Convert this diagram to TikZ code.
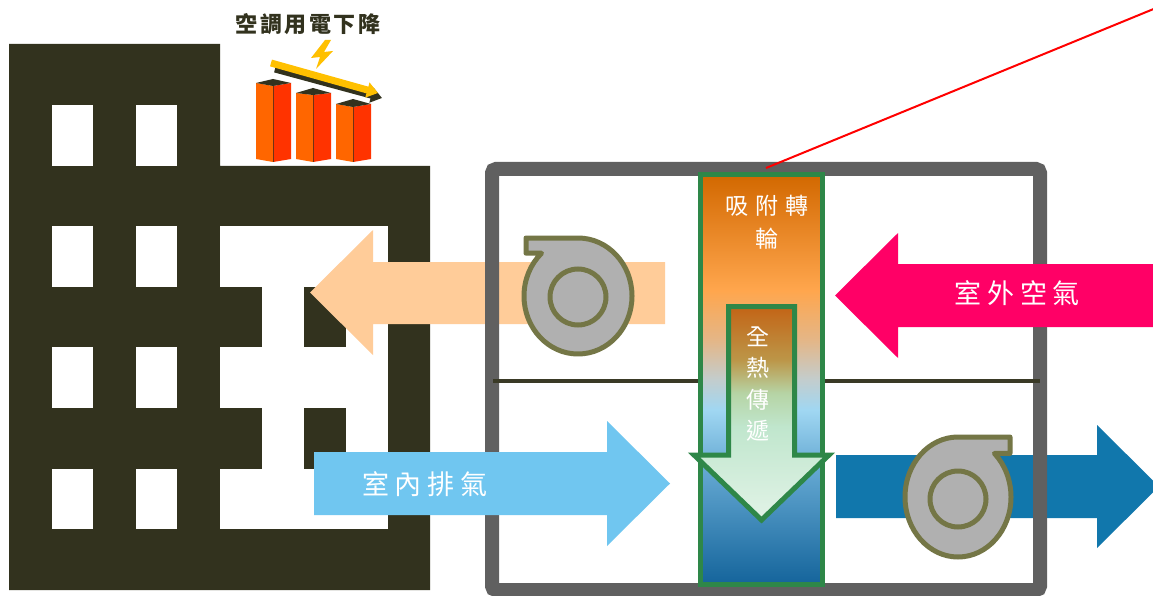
\documentclass[tikz,border=0pt]{standalone}
\usepackage{fontspec}
\usetikzlibrary{arrows.meta}
\newfontfamily\cjk{Noto Sans CJK TC}

% palette
\definecolor{bldg}{RGB}{50,50,30}
\definecolor{framegray}{RGB}{96,96,96}
\definecolor{midline}{RGB}{58,58,38}
\definecolor{peach}{RGB}{255,204,153}
\definecolor{pinkair}{RGB}{255,0,102}
\definecolor{skyair}{RGB}{112,198,240}
\definecolor{deepair}{RGB}{17,119,172}
\definecolor{rotorgreen}{RGB}{46,135,72}
\definecolor{fanfill}{RGB}{176,176,176}
\definecolor{fanline}{RGB}{116,118,70}
\definecolor{barleft}{RGB}{255,102,0}
\definecolor{barright}{RGB}{255,51,0}
\definecolor{trendyellow}{RGB}{255,192,0}

% rotor gradient, top to bottom
\definecolor{rA}{RGB}{210,104,0}
\definecolor{rB}{RGB}{255,166,77}
\definecolor{rC}{RGB}{228,182,135}
\definecolor{rD}{RGB}{195,205,205}
\definecolor{rE}{RGB}{160,215,242}
\definecolor{rF}{RGB}{100,168,210}
\definecolor{rG}{RGB}{20,100,155}
\pgfdeclareverticalshading{rotorgrad}{100bp}{%
  color(0bp)=(rG); color(25bp)=(rG); color(39bp)=(rF); color(46.3bp)=(rE);
  color(50bp)=(rD); color(54.8bp)=(rC); color(60.9bp)=(rB); color(75bp)=(rA);
  color(100bp)=(rA)}

% enthalpy arrow gradient, top to bottom
\definecolor{aA}{RGB}{195,100,22}
\definecolor{aB}{RGB}{188,150,72}
\definecolor{aC}{RGB}{182,212,165}
\definecolor{aD}{RGB}{192,230,205}
\definecolor{aE}{RGB}{226,243,231}
\pgfdeclareverticalshading{transfergrad}{100bp}{%
  color(0bp)=(aE); color(25bp)=(aE); color(46.8bp)=(aD); color(54.7bp)=(aC);
  color(62.5bp)=(aB); color(75bp)=(aA); color(100bp)=(aA)}

\newcommand\cjbox[2]{\makebox[#1]{#2}}

\tikzset{
  fan/.style={fill=fanfill, draw=fanline, line width=5, line join=round},
  fanhub/.style={draw=fanline, line width=5},
  labelwhite/.style={text=white, inner sep=0},
  barface/.style={draw=none},
}

\begin{document}
\begin{tikzpicture}[x=1pt, y=-1pt]
\useasboundingbox (0,0) rectangle (1153,596);
\clip (0,0) rectangle (1153,596);
\fill[white] (0,0) rectangle (1153,596);

% ---- building ----
\fill[bldg] (9,44) -- (220,44) -- (220,166) -- (430,166) -- (430,590) -- (9,590) -- cycle;
\foreach \ya/\yb in {105/166, 226/287, 347/408, 469/529}{
  \fill[white] (52,\ya) rectangle (93,\yb);
  \fill[white] (136,\ya) rectangle (177,\yb);
}
\fill[white] (220,226) rectangle (388,529);
\fill[bldg] (219,287) rectangle (262,347);
\fill[bldg] (219,408) rectangle (262,469);
\fill[bldg] (304,287) rectangle (346,347);
\fill[bldg] (304,408) rectangle (346,469);

% ---- falling power bars ----
\foreach \xl/\xm/\xr/\yl/\yk/\yf in {256/273/291/83/79/86, 296/313/331/93/88/95, 336/353/371/104/99/107}{
  \fill[barleft] (\xl,\yl) -- (\xm,\yf) -- (\xm,162) -- (\xl,159) -- cycle;
  \fill[barright] (\xm,\yf) -- (\xr,\yl) -- (\xr,159) -- (\xm,162) -- cycle;
  \fill[bldg] (\xl,\yl) -- (\xm,\yk) -- (\xr,\yl) -- (\xm,\yf) -- cycle;
  \draw[bldg!70!barright, line width=0.8] (\xm,\yf) -- (\xm,162);
}
\coordinate (trendS) at (271,63);
\coordinate (trendE) at (378,93);
\draw[bldg, line width=7, -{Triangle[length=11, width=15]}] ([shift={(4,6)}]trendS) -- ([shift={(4,5)}]trendE);
\draw[trendyellow, line width=7, -{Triangle[length=11, width=15]}] (trendS) -- (trendE);
\fill[trendyellow] (325,40) -- (311,58) -- (320,57) -- (316,69) -- (333,51) -- (324,52) -- (331,40) -- cycle;
\node[text=bldg, inner sep=0, font={\cjk\bfseries\fontsize{22}{26}\selectfont}] (title) at (308,24)
  {\cjbox{24.5pt}{空}\cjbox{24.5pt}{調}\cjbox{24.5pt}{用}\cjbox{24.5pt}{電}\cjbox{24.5pt}{下}\cjbox{24.5pt}{降}};

% ---- airflows under the casing ----
\fill[peach] (665,262) -- (373,262) -- (373,230) -- (310,292.5) -- (373,355) -- (373,324) -- (665,324) -- cycle;
\fill[deepair] (836,455) -- (1097,455) -- (1097,425) -- (1159,486.5) -- (1097,548) -- (1097,518) -- (836,518) -- cycle;

% ---- unit casing ----
\draw[framegray, line width=14, rounded corners=4] (492,169) rectangle (1040,590);
\draw[midline, line width=4] (493,381) -- (1040,381);

% ---- airflows over the casing ----
\fill[pinkair] (1160,264) -- (898,264) -- (898,233) -- (835,295.5) -- (898,358) -- (898,327) -- (1160,327) -- cycle;
\fill[skyair] (314,452) -- (607,452) -- (607,421) -- (670,483.5) -- (607,546) -- (607,515) -- (314,515) -- cycle;
\node[labelwhite, font={\cjk\fontsize{27}{30}\selectfont}] (outdoor) at (1017,293)
  {\cjbox{33pt}{室}\cjbox{33pt}{外}\cjbox{33pt}{空}\cjbox{33pt}{氣}};
\node[labelwhite, font={\cjk\fontsize{27}{30}\selectfont}] (exhaust) at (425,484)
  {\cjbox{33pt}{室}\cjbox{33pt}{內}\cjbox{33pt}{排}\cjbox{33pt}{氣}};

% ---- desiccant rotor ----
\shade[shading=rotorgrad] (700.5,174.5) rectangle (822.5,584.5);
\draw[rotorgreen, line width=5] (700.5,174.5) rectangle (822.5,584.5);
\path[shading=transfergrad, draw=rotorgreen, line width=5, line join=miter]
  (728.5,306.5) -- (794.5,306.5) -- (794.5,455) -- (829,455) -- (761.5,520)
  -- (694,455) -- (728.5,455) -- cycle;
\node[labelwhite, font={\cjk\fontsize{23}{28}\selectfont}] (rotorA) at (767,206)
  {\cjbox{30pt}{吸}\cjbox{30pt}{附}\cjbox{30pt}{轉}};
\node[labelwhite, font={\cjk\fontsize{23}{28}\selectfont}] (rotorB) at (766.5,239) {輪};
\node[labelwhite, align=center, font={\cjk\fontsize{23}{31.5}\selectfont}] (transfer) at (758,384)
  {全\\熱\\傳\\遞};

% ---- fans ----
\draw[fan] (526,238) -- (578,238)
  arc[start angle=-90, end angle=227.5, x radius=54, y radius=58] -- (526,253.2) -- cycle;
\draw[fanhub] (578,297) circle[radius=28];
\draw[fan] (1010,437) -- (958,437)
  arc[start angle=270, end angle=-46.6, x radius=53, y radius=60] -- (1010,453.4) -- cycle;
\draw[fanhub] (958,499) circle[radius=28];

% ---- callout line ----
\coordinate (calloutA) at (766,168);
\coordinate (calloutB) at (1156,8);
\draw[red, line width=2] (calloutA) -- (calloutB);
\end{tikzpicture}
\end{document}
